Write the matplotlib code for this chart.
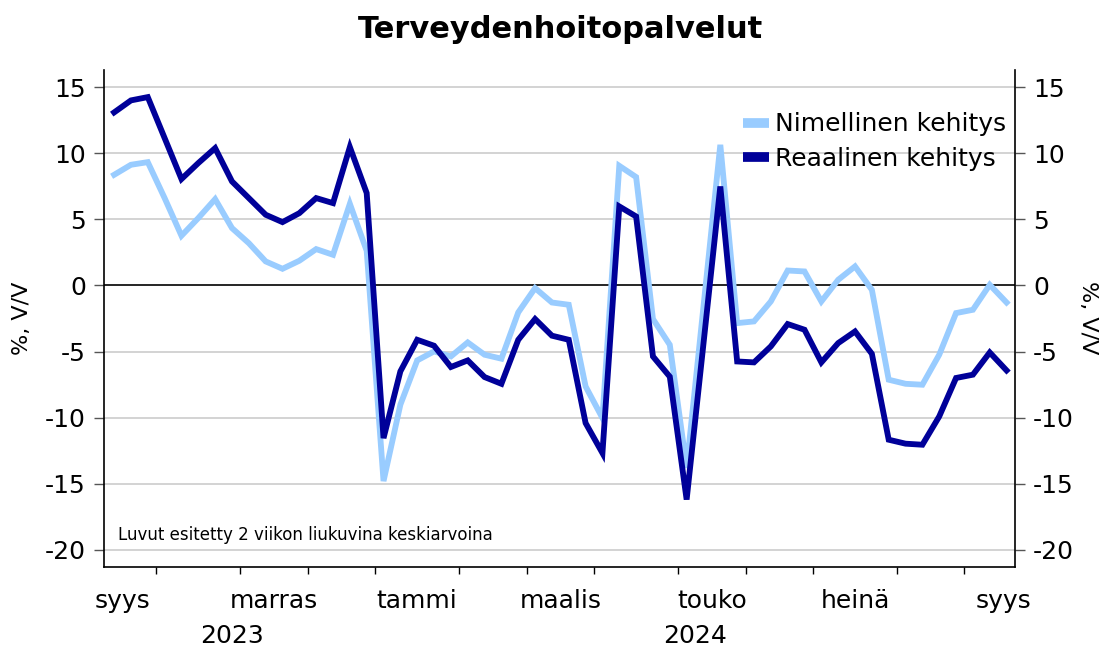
import matplotlib
matplotlib.use("Agg")
import matplotlib.pyplot as plt
import numpy as np

plt.rcParams['font.family'] = ['DejaVu Sans']

title = "Terveydenhoitopalvelut"
series_names = ["Nimellinen kehitys", "Reaalinen kehitys"]

nominal = [8.37, 9.13, 9.33, 6.61, 3.76, 5.1, 6.53, 4.34, 3.2, 1.82, 1.26, 1.87, 2.75, 2.32, 6.18, 2.62,
           -14.8, -9.02, -5.67, -4.99, -5.37, -4.31, -5.24, -5.54, -2.04, -0.2, -1.29, -1.46, -7.64, -10.03,
           9.05, 8.2, -2.54, -4.49, -13.8, -1.6, 10.64, -2.85, -2.72, -1.21, 1.13, 1.06, -1.21, 0.43, 1.44,
           -0.33, -7.13, -7.44, -7.51, -5.24, -2.09, -1.84, 0.05, -1.29]
real = [13.09, 14.0, 14.25, 11.15, 8.05, 9.26, 10.39, 7.87, 6.61, 5.35, 4.79, 5.47, 6.61, 6.23, 10.47, 6.99,
        -11.55, -6.5, -4.11, -4.56, -6.17, -5.67, -6.93, -7.44, -4.11, -2.54, -3.8, -4.11, -10.41, -12.68,
        5.98, 5.22, -5.37, -6.9, -16.2, -4.4, 7.49, -5.75, -5.82, -4.61, -2.92, -3.35, -5.82, -4.36, -3.48,
        -5.17, -11.67, -11.97, -12.05, -9.91, -7.0, -6.75, -5.07, -6.43]

# week index where each month starts (boundary between weeks)
month_bounds = [2.5, 7.5, 11.5, 15.5, 20.5, 24.5, 28.5, 33.5, 37.5, 41.5, 46.5, 50.5]
year_bound = 15.5
month_labels = ["syys", "marras", "tammi", "maalis", "touko", "heinä", "syys"]
month_label_pos = [0.5, 9.5, 18.0, 26.5, 35.5, 44.0, 52.8]
year_labels = ["2023", "2024"]
year_label_pos = [7.0, 34.5]
yticks = [15, 10, 5, 0, -5, -10, -15, -20]
note = "Luvut esitetty 2 viikon liukuvina keskiarvoina"
ylabel = "%, V/V"

c_nom = "#99CCFF"
c_real = "#000099"

fig = plt.figure(figsize=(11.07, 6.47), dpi=100)
ax = fig.add_axes([104/1107, 1-567/647, (1015-104)/1107, (567-70)/647])
x = np.arange(len(nominal))

ax.set_xlim(-0.6, 53.5)
ax.set_ylim(-21.3, 16.3)
for v in yticks:
    if v != 0:
        ax.axhline(v, color="#cccccc", lw=1.2, zorder=1)
ax.axhline(0, color="black", lw=1.2, zorder=2)

ax.plot(x, nominal, color=c_nom, lw=4.2, solid_joinstyle='miter', zorder=3, label=series_names[0])
ax.plot(x, real, color=c_real, lw=4.2, solid_joinstyle='miter', zorder=4, label=series_names[1])

ax.spines['top'].set_visible(False)
for s in ['left', 'right', 'bottom']:
    ax.spines[s].set_linewidth(1.2)
    ax.spines[s].set_color('black')

ax.set_yticks(yticks)
ax.set_yticklabels([str(v) for v in yticks], fontsize=18)
ax.tick_params(axis='y', which='both', left=True, right=True, labelleft=True, labelright=True,
               direction='out', length=7, width=1, color='#555555', pad=6)
ax.set_xticks(month_bounds)
ax.set_xticklabels([])
ax.tick_params(axis='x', direction='out', length=5, width=1, color='black')
ax.set_xticks([year_bound], minor=True)
ax.tick_params(axis='x', which='minor', direction='out', length=9, width=1, color='black')

for lab, p in zip(month_labels, month_label_pos):
    ax.text(p, -0.045, lab, transform=ax.get_xaxis_transform(), ha='center', va='top', fontsize=18)
for lab, p in zip(year_labels, year_label_pos):
    ax.text(p, -0.115, lab, transform=ax.get_xaxis_transform(), ha='center', va='top', fontsize=18)

fig.text(22/1107, 1-318/647, ylabel, rotation=90, ha='center', va='center', fontsize=16)
fig.text(1088/1107, 1-318/647, ylabel, rotation=270, ha='center', va='center', fontsize=16)

ax.text(0.015, 0.064, note, transform=ax.transAxes, ha='left', va='center', fontsize=12)

fig.text(560/1107, 1-30/647, title, ha='center', va='center', fontsize=22, fontweight='bold')

leg = ax.legend(loc='upper right', bbox_to_anchor=(1.007, 0.945), frameon=False, fontsize=18,
                handlelength=1.05, handletextpad=0.25, labelspacing=0.42, borderaxespad=0.2)
for h in leg.get_lines():
    h.set_linewidth(7)
    h.set_solid_capstyle('butt')

fig.savefig("out.png", dpi=100)
